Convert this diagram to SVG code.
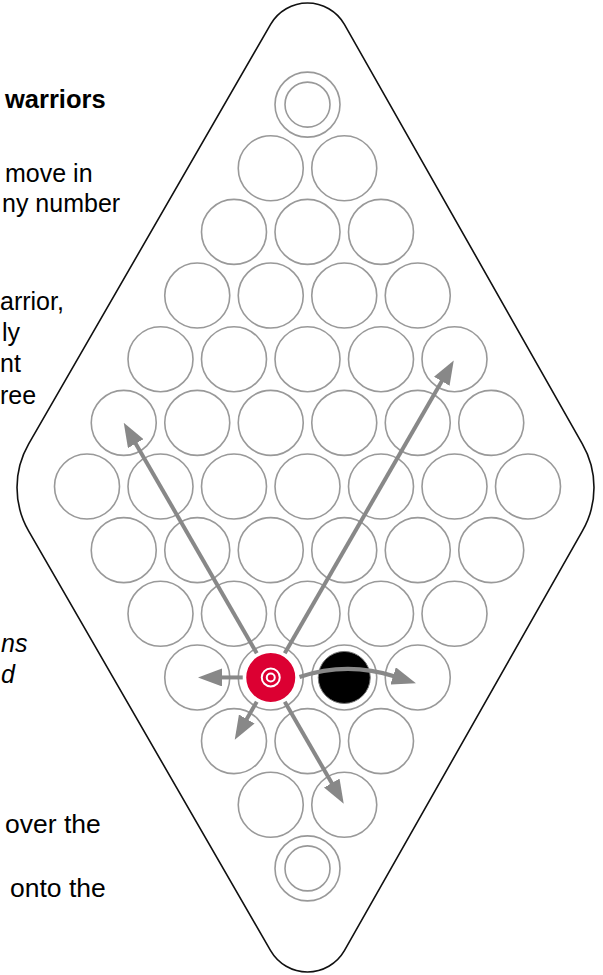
<svg xmlns="http://www.w3.org/2000/svg" width="603" height="975" viewBox="0 0 603 975">
<defs>
<style>
.t{font-family:"Liberation Sans",Arial,sans-serif;font-size:25px;fill:#000}
.b{font-weight:bold;font-size:25.5px}
.i{font-style:italic}
.l{font-size:26.5px}
.c{fill:#fff;stroke:#999;stroke-width:1.6}
.a{fill:none;stroke:#888;stroke-width:4;marker-end:url(#ah)}
</style>
<marker id="ah" markerUnits="userSpaceOnUse" markerWidth="24" markerHeight="18" refX="2" refY="9" orient="auto" viewBox="0 0 24 18">
<path d="M0,0 L24,9 L0,18 z" fill="#888"/>
</marker>
</defs>
<rect width="603" height="975" fill="#fff"/>
<g id="text">
<text class="t b" x="5" y="108">warriors</text>
<text class="t" x="5" y="182">move in</text>
<text class="t" x="2" y="212">ny number</text>
<text class="t" x="0" y="310">arrior,</text>
<text class="t" x="2" y="341">ly</text>
<text class="t" x="0" y="372">nt</text>
<text class="t" x="0" y="404">ree</text>
<text class="t i" x="1" y="652">ns</text>
<text class="t i" x="1" y="683">d</text>
<text class="t l" x="5" y="833">over the</text>
<text class="t l" x="10" y="897">onto the</text>
</g>
<g id="board">
<path d="M270.6,24.3 A42.6,42.6 0 0 1 344.4,24.3 L582.3,443.85 A87.3,87.3 0 0 1 582.3,531.15 L344.4,950.7 A42.6,42.6 0 0 1 270.6,950.7 L28.7,531.15 A87.3,87.3 0 0 1 28.7,443.85 Z" fill="#fff" stroke="#111" stroke-width="1.6"/>
</g>
<g id="ring-top"><circle class="c" cx="307.5" cy="104.6" r="32.5"/><circle class="c" cx="307.5" cy="104.6" r="22.5"/></g>
<g id="ring-bottom"><circle class="c" cx="307.5" cy="868.4" r="32.5"/><circle class="c" cx="307.5" cy="868.4" r="22.5"/></g>
<g id="holes">
<circle class="c" cx="270.75" cy="168.25" r="32.5"/><circle class="c" cx="344.25" cy="168.25" r="32.5"/>
<circle class="c" cx="234" cy="231.9" r="32.5"/><circle class="c" cx="307.5" cy="231.9" r="32.5"/><circle class="c" cx="381" cy="231.9" r="32.5"/>
<circle class="c" cx="197.25" cy="295.55" r="32.5"/><circle class="c" cx="270.75" cy="295.55" r="32.5"/><circle class="c" cx="344.25" cy="295.55" r="32.5"/><circle class="c" cx="417.75" cy="295.55" r="32.5"/>
<circle class="c" cx="160.5" cy="359.2" r="32.5"/><circle class="c" cx="234" cy="359.2" r="32.5"/><circle class="c" cx="307.5" cy="359.2" r="32.5"/><circle class="c" cx="381" cy="359.2" r="32.5"/><circle class="c" cx="454.5" cy="359.2" r="32.5"/>
<circle class="c" cx="123.75" cy="422.85" r="32.5"/><circle class="c" cx="197.25" cy="422.85" r="32.5"/><circle class="c" cx="270.75" cy="422.85" r="32.5"/><circle class="c" cx="344.25" cy="422.85" r="32.5"/><circle class="c" cx="417.75" cy="422.85" r="32.5"/><circle class="c" cx="491.25" cy="422.85" r="32.5"/>
<circle class="c" cx="87" cy="486.5" r="32.5"/><circle class="c" cx="160.5" cy="486.5" r="32.5"/><circle class="c" cx="234" cy="486.5" r="32.5"/><circle class="c" cx="307.5" cy="486.5" r="32.5"/><circle class="c" cx="381" cy="486.5" r="32.5"/><circle class="c" cx="454.5" cy="486.5" r="32.5"/><circle class="c" cx="528" cy="486.5" r="32.5"/>
<circle class="c" cx="123.75" cy="550.15" r="32.5"/><circle class="c" cx="197.25" cy="550.15" r="32.5"/><circle class="c" cx="270.75" cy="550.15" r="32.5"/><circle class="c" cx="344.25" cy="550.15" r="32.5"/><circle class="c" cx="417.75" cy="550.15" r="32.5"/><circle class="c" cx="491.25" cy="550.15" r="32.5"/>
<circle class="c" cx="160.5" cy="613.8" r="32.5"/><circle class="c" cx="234" cy="613.8" r="32.5"/><circle class="c" cx="307.5" cy="613.8" r="32.5"/><circle class="c" cx="381" cy="613.8" r="32.5"/><circle class="c" cx="454.5" cy="613.8" r="32.5"/>
<circle class="c" cx="197.25" cy="677.45" r="32.5"/><circle class="c" cx="270.75" cy="677.45" r="32.5"/><circle class="c" cx="344.25" cy="677.45" r="32.5"/><circle class="c" cx="417.75" cy="677.45" r="32.5"/>
<circle class="c" cx="234" cy="741.1" r="32.5"/><circle class="c" cx="307.5" cy="741.1" r="32.5"/><circle class="c" cx="381" cy="741.1" r="32.5"/>
<circle class="c" cx="270.75" cy="804.75" r="32.5"/><circle class="c" cx="344.25" cy="804.75" r="32.5"/>
</g>
<g id="black-warrior">
<circle cx="344.25" cy="677.45" r="26" fill="#000" stroke="#777" stroke-width="1"/>
</g>
<g id="connectors">
<line class="a" x1="256.75" y1="653.2" x2="134.75" y2="441.9"/>
<line class="a" x1="284.75" y1="653.2" x2="442.75" y2="379.55"/>
<line class="a" x1="242.75" y1="677.45" x2="220" y2="677.45"/>
<line class="a" x1="256.75" y1="701.7" x2="245.75" y2="720.75"/>
<line class="a" x1="284.75" y1="701.7" x2="332.75" y2="784.8"/>
<path class="a" d="M299.5,677 Q347,661 395,676.5"/>
</g>
<g id="red-warrior">
<circle cx="270.75" cy="677.45" r="25.5" fill="#dc0032" stroke="#fff" stroke-width="2"/>
<circle cx="270.75" cy="677.45" r="9" fill="none" stroke="#fff" stroke-width="2"/>
<circle cx="270.75" cy="677.45" r="4" fill="none" stroke="#fff" stroke-width="2"/>
</g>
</svg>
